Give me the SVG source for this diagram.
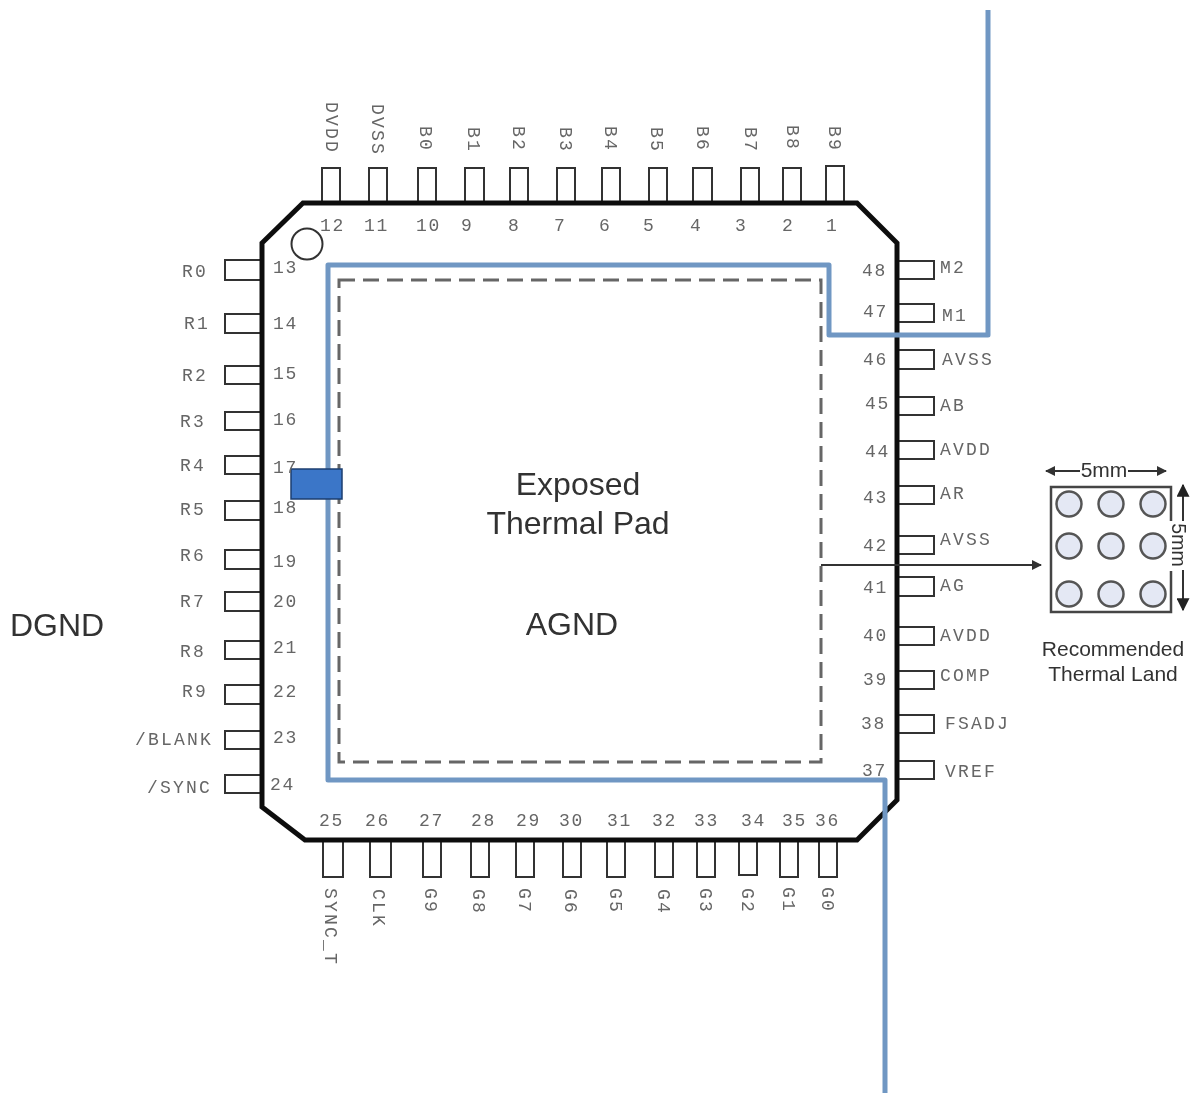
<svg xmlns="http://www.w3.org/2000/svg" width="1190" height="1093" viewBox="0 0 1190 1093">
<style>
text{font-family:"Liberation Sans",Arial,sans-serif;fill:#333}
.m{font-family:"Liberation Mono","Courier New",monospace;font-size:18px;fill:#666;letter-spacing:2.2px}
.p{font-family:"Liberation Mono","Courier New",monospace;font-size:18px;fill:#666;letter-spacing:1.7px}
.pin{fill:#fff;stroke:#333;stroke-width:2}
.big{font-size:32px}
.s{font-size:21px}
.hole{fill:#e4e8f4;stroke:#555;stroke-width:2.5}
.blue{fill:none;stroke:#7097c3;stroke-width:5;stroke-linejoin:round}
.dim{stroke:#333;stroke-width:2;fill:none}
</style>
<defs>
<marker id="a" viewBox="0 0 10 10" refX="9" refY="5" markerWidth="5" markerHeight="5" orient="auto-start-reverse"><path d="M0 0L10 5L0 10z" fill="#333"/></marker>
<marker id="b" viewBox="0 0 10 10" refX="9" refY="5" markerWidth="6.5" markerHeight="6.5" orient="auto"><path d="M0 0L10 5L0 10z" fill="#222"/></marker>
<filter id="soft" x="0" y="0" width="100%" height="100%"><feGaussianBlur stdDeviation="0.45"/></filter>
</defs>
<g filter="url(#soft)">
<rect width="1190" height="1093" fill="#fff"/>
<g id="top-pins">
<rect class="pin" x="322" y="168" width="18" height="35"/><rect class="pin" x="369" y="168" width="18" height="35"/><rect class="pin" x="418" y="168" width="18" height="35"/><rect class="pin" x="465" y="168" width="19" height="35"/><rect class="pin" x="510" y="168" width="18" height="35"/><rect class="pin" x="557" y="168" width="18" height="35"/><rect class="pin" x="602" y="168" width="18" height="35"/><rect class="pin" x="649" y="168" width="18" height="35"/><rect class="pin" x="693" y="168" width="19" height="35"/><rect class="pin" x="741" y="168" width="18" height="35"/><rect class="pin" x="783" y="168" width="18" height="35"/><rect class="pin" x="826" y="166" width="18" height="37"/>
</g>
<g id="bottom-pins">
<rect class="pin" x="323" y="840" width="20" height="37"/><rect class="pin" x="370" y="840" width="21" height="37"/><rect class="pin" x="423" y="840" width="18" height="37"/><rect class="pin" x="471" y="840" width="18" height="37"/><rect class="pin" x="516" y="840" width="18" height="37"/><rect class="pin" x="563" y="840" width="18" height="37"/><rect class="pin" x="607" y="840" width="18" height="37"/><rect class="pin" x="655" y="840" width="18" height="37"/><rect class="pin" x="697" y="840" width="18" height="37"/><rect class="pin" x="739" y="840" width="18" height="35"/><rect class="pin" x="780" y="840" width="18" height="37"/><rect class="pin" x="819" y="840" width="18" height="37"/>
</g>
<g id="left-pins">
<rect class="pin" x="225" y="260" width="37" height="20"/><rect class="pin" x="225" y="314" width="37" height="19"/><rect class="pin" x="225" y="366" width="37" height="18"/><rect class="pin" x="225" y="412" width="37" height="18"/><rect class="pin" x="225" y="456" width="37" height="18"/><rect class="pin" x="225" y="501" width="37" height="19"/><rect class="pin" x="225" y="550" width="37" height="19"/><rect class="pin" x="225" y="592" width="37" height="19"/><rect class="pin" x="225" y="641" width="37" height="18"/><rect class="pin" x="225" y="685" width="37" height="19"/><rect class="pin" x="225" y="731" width="37" height="18"/><rect class="pin" x="225" y="775" width="37" height="18"/>
</g>
<g id="right-pins">
<rect class="pin" x="897" y="261" width="37" height="18"/><rect class="pin" x="897" y="304" width="37" height="18"/><rect class="pin" x="897" y="350" width="37" height="19"/><rect class="pin" x="897" y="397" width="37" height="18"/><rect class="pin" x="897" y="441" width="37" height="18"/><rect class="pin" x="897" y="486" width="37" height="18"/><rect class="pin" x="897" y="536" width="37" height="18"/><rect class="pin" x="897" y="577" width="37" height="19"/><rect class="pin" x="897" y="627" width="37" height="18"/><rect class="pin" x="897" y="671" width="37" height="18"/><rect class="pin" x="897" y="715" width="37" height="18"/><rect class="pin" x="897" y="761" width="37" height="18"/>
</g>
<g id="chip">
<polygon points="303,203 857,203 897,243 897,800 857,840 305,840 262,807 262,243" fill="#fff" stroke="#111" stroke-width="5"/>
<circle cx="307" cy="244" r="15.5" fill="#fff" stroke="#333" stroke-width="2"/>
</g>
<g id="thermal-pad">
<rect x="339" y="280" width="482" height="482" fill="none" stroke="#666" stroke-width="3" stroke-dasharray="16 8"/>
<text class="big" x="578" y="495" text-anchor="middle">Exposed</text>
<text class="big" x="578" y="534" text-anchor="middle">Thermal Pad</text>
<text class="big" x="572" y="635" text-anchor="middle">AGND</text>
</g>
<g id="connectors">
<path class="blue" d="M988 10V335H829V265H328V780H885V1093"/>
<rect x="291" y="469" width="51" height="30" fill="#3a76c8" stroke="#1c3f70" stroke-width="1.5"/>
<path class="dim" d="M821 565H1041" marker-end="url(#a)"/>
<path class="dim" d="M1080 471H1046" marker-end="url(#a)"/>
<path class="dim" d="M1128 471H1166" marker-end="url(#a)"/>
<path class="dim" d="M1183 521V485" marker-end="url(#b)"/>
<path class="dim" d="M1183 570V610" marker-end="url(#b)"/>
</g>
<g id="thermal-land">
<path d="M1171 521V487H1051V612H1171V571" fill="#fff" stroke="#444" stroke-width="2.5"/>
<circle class="hole" cx="1069" cy="504" r="12.5"/><circle class="hole" cx="1111" cy="504" r="12.5"/><circle class="hole" cx="1153" cy="504" r="12.5"/>
<circle class="hole" cx="1069" cy="546" r="12.5"/><circle class="hole" cx="1111" cy="546" r="12.5"/><circle class="hole" cx="1153" cy="546" r="12.5"/>
<circle class="hole" cx="1069" cy="594" r="12.5"/><circle class="hole" cx="1111" cy="594" r="12.5"/><circle class="hole" cx="1153" cy="594" r="12.5"/>
<text class="s" x="1104" y="477" text-anchor="middle">5mm</text>
<text class="s" style="font-size:19.5px" transform="translate(1172,545) rotate(90)" text-anchor="middle">5mm</text>
<text class="s" x="1113" y="656" text-anchor="middle">Recommended</text>
<text class="s" x="1113" y="681" text-anchor="middle">Thermal Land</text>
</g>
<text id="dgnd" class="big" x="10" y="636">DGND</text>
<g id="pin-numbers">
<text class="p" x="320" y="231">12</text><text class="p" x="364" y="231">11</text><text class="p" x="416" y="231">10</text><text class="p" x="461" y="231">9</text><text class="p" x="508" y="231">8</text><text class="p" x="554" y="231">7</text><text class="p" x="599" y="231">6</text><text class="p" x="643" y="231">5</text><text class="p" x="690" y="231">4</text><text class="p" x="735" y="231">3</text><text class="p" x="782" y="231">2</text><text class="p" x="826" y="231">1</text>
<text class="p" x="273" y="273">13</text><text class="p" x="273" y="329">14</text><text class="p" x="273" y="379">15</text><text class="p" x="273" y="425">16</text><text class="p" x="273" y="473">17</text><text class="p" x="273" y="513">18</text><text class="p" x="273" y="567">19</text><text class="p" x="273" y="607">20</text><text class="p" x="273" y="653">21</text><text class="p" x="273" y="697">22</text><text class="p" x="273" y="743">23</text><text class="p" x="270" y="790">24</text>
<text class="p" x="319" y="826">25</text><text class="p" x="365" y="826">26</text><text class="p" x="419" y="826">27</text><text class="p" x="471" y="826">28</text><text class="p" x="516" y="826">29</text><text class="p" x="559" y="826">30</text><text class="p" x="607" y="826">31</text><text class="p" x="652" y="826">32</text><text class="p" x="694" y="826">33</text><text class="p" x="741" y="826">34</text><text class="p" x="782" y="826">35</text><text class="p" x="815" y="826">36</text>
<text class="p" x="862" y="276">48</text><text class="p" x="863" y="317">47</text><text class="p" x="863" y="365">46</text><text class="p" x="865" y="409">45</text><text class="p" x="865" y="457">44</text><text class="p" x="863" y="503">43</text><text class="p" x="863" y="551">42</text><text class="p" x="863" y="593">41</text><text class="p" x="863" y="641">40</text><text class="p" x="863" y="685">39</text><text class="p" x="861" y="729">38</text><text class="p" x="862" y="776">37</text>
</g>
<g id="pin-labels">
<text class="m" transform="translate(326,102) rotate(90)">DVDD</text><text class="m" transform="translate(372,104) rotate(90)">DVSS</text><text class="m" transform="translate(420,126) rotate(90)">B0</text><text class="m" transform="translate(468,127) rotate(90)">B1</text><text class="m" transform="translate(513,126) rotate(90)">B2</text><text class="m" transform="translate(560,127) rotate(90)">B3</text><text class="m" transform="translate(605,126) rotate(90)">B4</text><text class="m" transform="translate(651,127) rotate(90)">B5</text><text class="m" transform="translate(697,126) rotate(90)">B6</text><text class="m" transform="translate(745,127) rotate(90)">B7</text><text class="m" transform="translate(787,125) rotate(90)">B8</text><text class="m" transform="translate(829,126) rotate(90)">B9</text>
<text class="m" x="182" y="277">R0</text><text class="m" x="184" y="329">R1</text><text class="m" x="182" y="381">R2</text><text class="m" x="180" y="427">R3</text><text class="m" x="180" y="471">R4</text><text class="m" x="180" y="515">R5</text><text class="m" x="180" y="561">R6</text><text class="m" x="180" y="607">R7</text><text class="m" x="180" y="657">R8</text><text class="m" x="182" y="697">R9</text><text class="m" x="135" y="745">/BLANK</text><text class="m" x="147" y="793">/SYNC</text>
<text class="m" x="940" y="273">M2</text><text class="m" x="942" y="321">M1</text><text class="m" x="942" y="365">AVSS</text><text class="m" x="940" y="411">AB</text><text class="m" x="940" y="455">AVDD</text><text class="m" x="940" y="499">AR</text><text class="m" x="940" y="545">AVSS</text><text class="m" x="940" y="591">AG</text><text class="m" x="940" y="641">AVDD</text><text class="m" x="940" y="681">COMP</text><text class="m" x="945" y="729">FSADJ</text><text class="m" x="945" y="777">VREF</text>
<text class="m" transform="translate(325,888) rotate(90)">SYNC_T</text><text class="m" transform="translate(373,889) rotate(90)">CLK</text><text class="m" transform="translate(425,888) rotate(90)">G9</text><text class="m" transform="translate(473,889) rotate(90)">G8</text><text class="m" transform="translate(519,888) rotate(90)">G7</text><text class="m" transform="translate(565,889) rotate(90)">G6</text><text class="m" transform="translate(610,888) rotate(90)">G5</text><text class="m" transform="translate(658,889) rotate(90)">G4</text><text class="m" transform="translate(700,888) rotate(90)">G3</text><text class="m" transform="translate(742,888) rotate(90)">G2</text><text class="m" transform="translate(783,887) rotate(90)">G1</text><text class="m" transform="translate(822,887) rotate(90)">G0</text>
</g>
</g>
</svg>
